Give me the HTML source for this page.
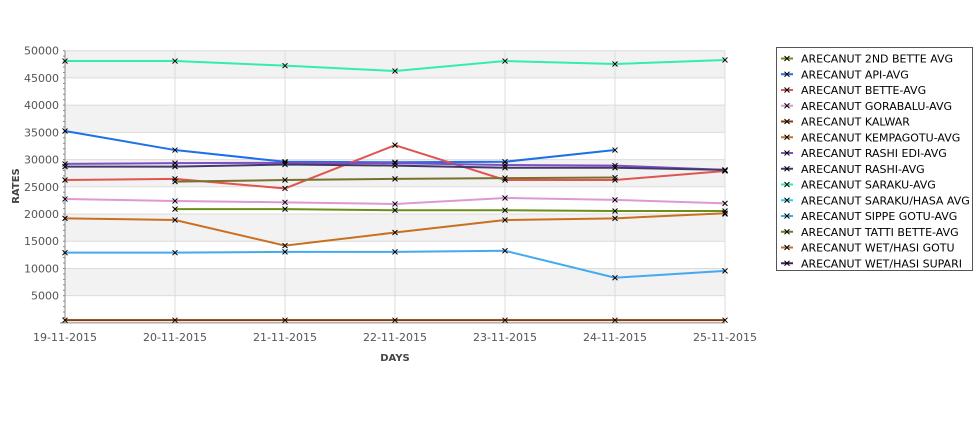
<!DOCTYPE html>
<html><head><meta charset="utf-8"><style>
body{margin:0;background:#fff;width:975px;height:429px;overflow:hidden;font-family:"DejaVu Sans","Liberation Sans",sans-serif}
svg text{font-family:"DejaVu Sans","Liberation Sans",sans-serif}
</style></head><body>
<svg id="chart" width="975" height="429" xmlns="http://www.w3.org/2000/svg">
<g id="bands"></g><g id="grid"></g><g id="axes"></g><g id="series"></g><g id="legend"></g>
</svg>
<script>
const categories=["19-11-2015","20-11-2015","21-11-2015","22-11-2015","23-11-2015","24-11-2015","25-11-2015"];
const yTicks=[5000,10000,15000,20000,25000,30000,35000,40000,45000,50000];
const seriesNames=["ARECANUT 2ND BETTE AVG","ARECANUT API-AVG","ARECANUT BETTE-AVG","ARECANUT GORABALU-AVG","ARECANUT KALWAR","ARECANUT KEMPAGOTU-AVG","ARECANUT RASHI EDI-AVG","ARECANUT RASHI-AVG","ARECANUT SARAKU-AVG","ARECANUT SARAKU/HASA AVG","ARECANUT SIPPE GOTU-AVG","ARECANUT TATTI BETTE-AVG","ARECANUT WET/HASI GOTU","ARECANUT WET/HASI SUPARI"];
const seriesColors=["#6a8f1a","#1f6fe8","#e05550","#dd99d5","#8b3a0a","#c87020","#7f4fbf","#403a6a","#33eeaa","#33ccee","#44aaee","#7a7030","#c07030","#402060"];
const s2ndBette=[null,20900,20900,20700,20700,20550,20550];
const sApi=[35250,31750,29600,29500,29600,31750,null];
const sBette=[26250,26450,24700,32650,26250,26250,27900];
const sGorabalu=[22750,22400,22150,21850,22950,22600,21950];
const sKalwar=[500,500,500,500,500,500,500];
const sKempagotu=[19200,18900,14200,16600,18900,19200,20150];
const sRashiEdi=[29200,29350,29400,29350,29000,28900,28100];
const sRashi=[28700,28700,29100,28900,28500,28500,28100];
const sSaraku=[48100,48100,47250,46270,48100,47550,48300];
const sSarakuHasa=[null,null,null,null,null,null,null];
const sSippeGotu=[12900,12900,13050,13050,13250,8300,9550];
const sTattiBette=[null,25950,26250,26450,26600,26700,null];
const sWetHasiGotu=[null,null,null,null,null,null,20000];
const sWetHasiSupari=[null,null,null,null,null,null,28000];
const allSeries=[s2ndBette,sApi,sBette,sGorabalu,sKalwar,sKempagotu,sRashiEdi,sRashi,sSaraku,sSarakuHasa,sSippeGotu,sTattiBette,sWetHasiGotu,sWetHasiSupari];
const NS="http://www.w3.org/2000/svg";
const X0=65,X1=725,Y0=322.9,Y1=50.7,YMAX=50000;
const xs=i=>X0+(X1-X0)*i/(categories.length-1);
const ys=v=>Y0-(Y0-Y1)*v/YMAX;
function mk(tag,attrs,parent,text){const e=document.createElementNS(NS,tag);for(const k in attrs)e.setAttribute(k,attrs[k]);if(text!==undefined)e.textContent=text;parent.appendChild(e);return e;}
const bands=document.getElementById('bands'),grid=document.getElementById('grid'),axes=document.getElementById('axes'),ser=document.getElementById('series'),leg=document.getElementById('legend');
mk('rect',{x:X0,y:Y1,width:X1-X0,height:Y0-Y1,fill:'#fff'},bands);
for(let v=5000;v<YMAX;v+=10000){const r=mk('rect',{x:X0,y:ys(v+5000),width:X1-X0,height:ys(v)-ys(v+5000),fill:'#f2f2f2'},bands);

}
yTicks.forEach(v=>{const l=mk('line',{x1:X0,x2:X1,y1:ys(v),y2:ys(v),stroke:'#dcdcdc','stroke-width':1},grid);


const t=mk('text',{x:X0-6,y:ys(v)+4,'text-anchor':'end','font-size':11,fill:'#555'},axes,String(v));

});
for(let v=1000;v<=YMAX;v+=1000){mk('line',{x1:X0-2,x2:X0,y1:ys(v),y2:ys(v),stroke:'#888'},axes);}
categories.forEach((c,i)=>{const l=mk('line',{x1:xs(i),x2:xs(i),y1:Y1,y2:Y0,stroke:'#dcdcdc'},grid);


const t=mk('text',{x:xs(i),y:341,'text-anchor':'middle','font-size':11,fill:'#555'},axes,c);

});
mk('line',{x1:X0,x2:X0,y1:Y1,y2:Y0,stroke:'#888'},axes);
mk('line',{x1:X0-5,x2:X1,y1:Y0,y2:Y0,stroke:'#888'},axes);
const xt=mk('text',{x:395,y:361,'text-anchor':'middle','font-size':10,'font-weight':'bold',fill:'#444'},axes,'DAYS');


const yt=mk('text',{x:19,y:186,'text-anchor':'middle','font-size':10,'font-weight':'bold',fill:'#444',transform:'rotate(-90 19 186)'},axes,'RATES');


function cross(x,y,p){mk('path',{d:`M${x-2.5},${y-2.5}L${x+2.5},${y+2.5}M${x-2.5},${y+2.5}L${x+2.5},${y-2.5}`,stroke:'#000','stroke-width':1},p);}
allSeries.forEach((s,k)=>{const g=mk('g',{},ser);


let d='',pen=false;s.forEach((v,i)=>{if(v===null){pen=false;return;}d+=(pen?'L':'M')+xs(i)+','+ys(v);pen=true;});
if(d)mk('path',{d:d,fill:'none',stroke:seriesColors[k],'stroke-width':2},g);
s.forEach((v,i)=>{if(v!==null)cross(xs(i),ys(v),g);});});
const lb=mk('rect',{x:776.5,y:47.5,width:196,height:223,fill:'#fff',stroke:'#555'},leg);


seriesNames.forEach((n,k)=>{const y=58.5+k*15.75;const g=mk('g',{},leg);


mk('line',{x1:781,x2:793,y1:y,y2:y,stroke:seriesColors[k],'stroke-width':2},g);
cross(787,y,g);
mk('text',{x:801,y:y+4,'font-size':11,fill:'#000'},g,n);});
</script>
</body></html>
